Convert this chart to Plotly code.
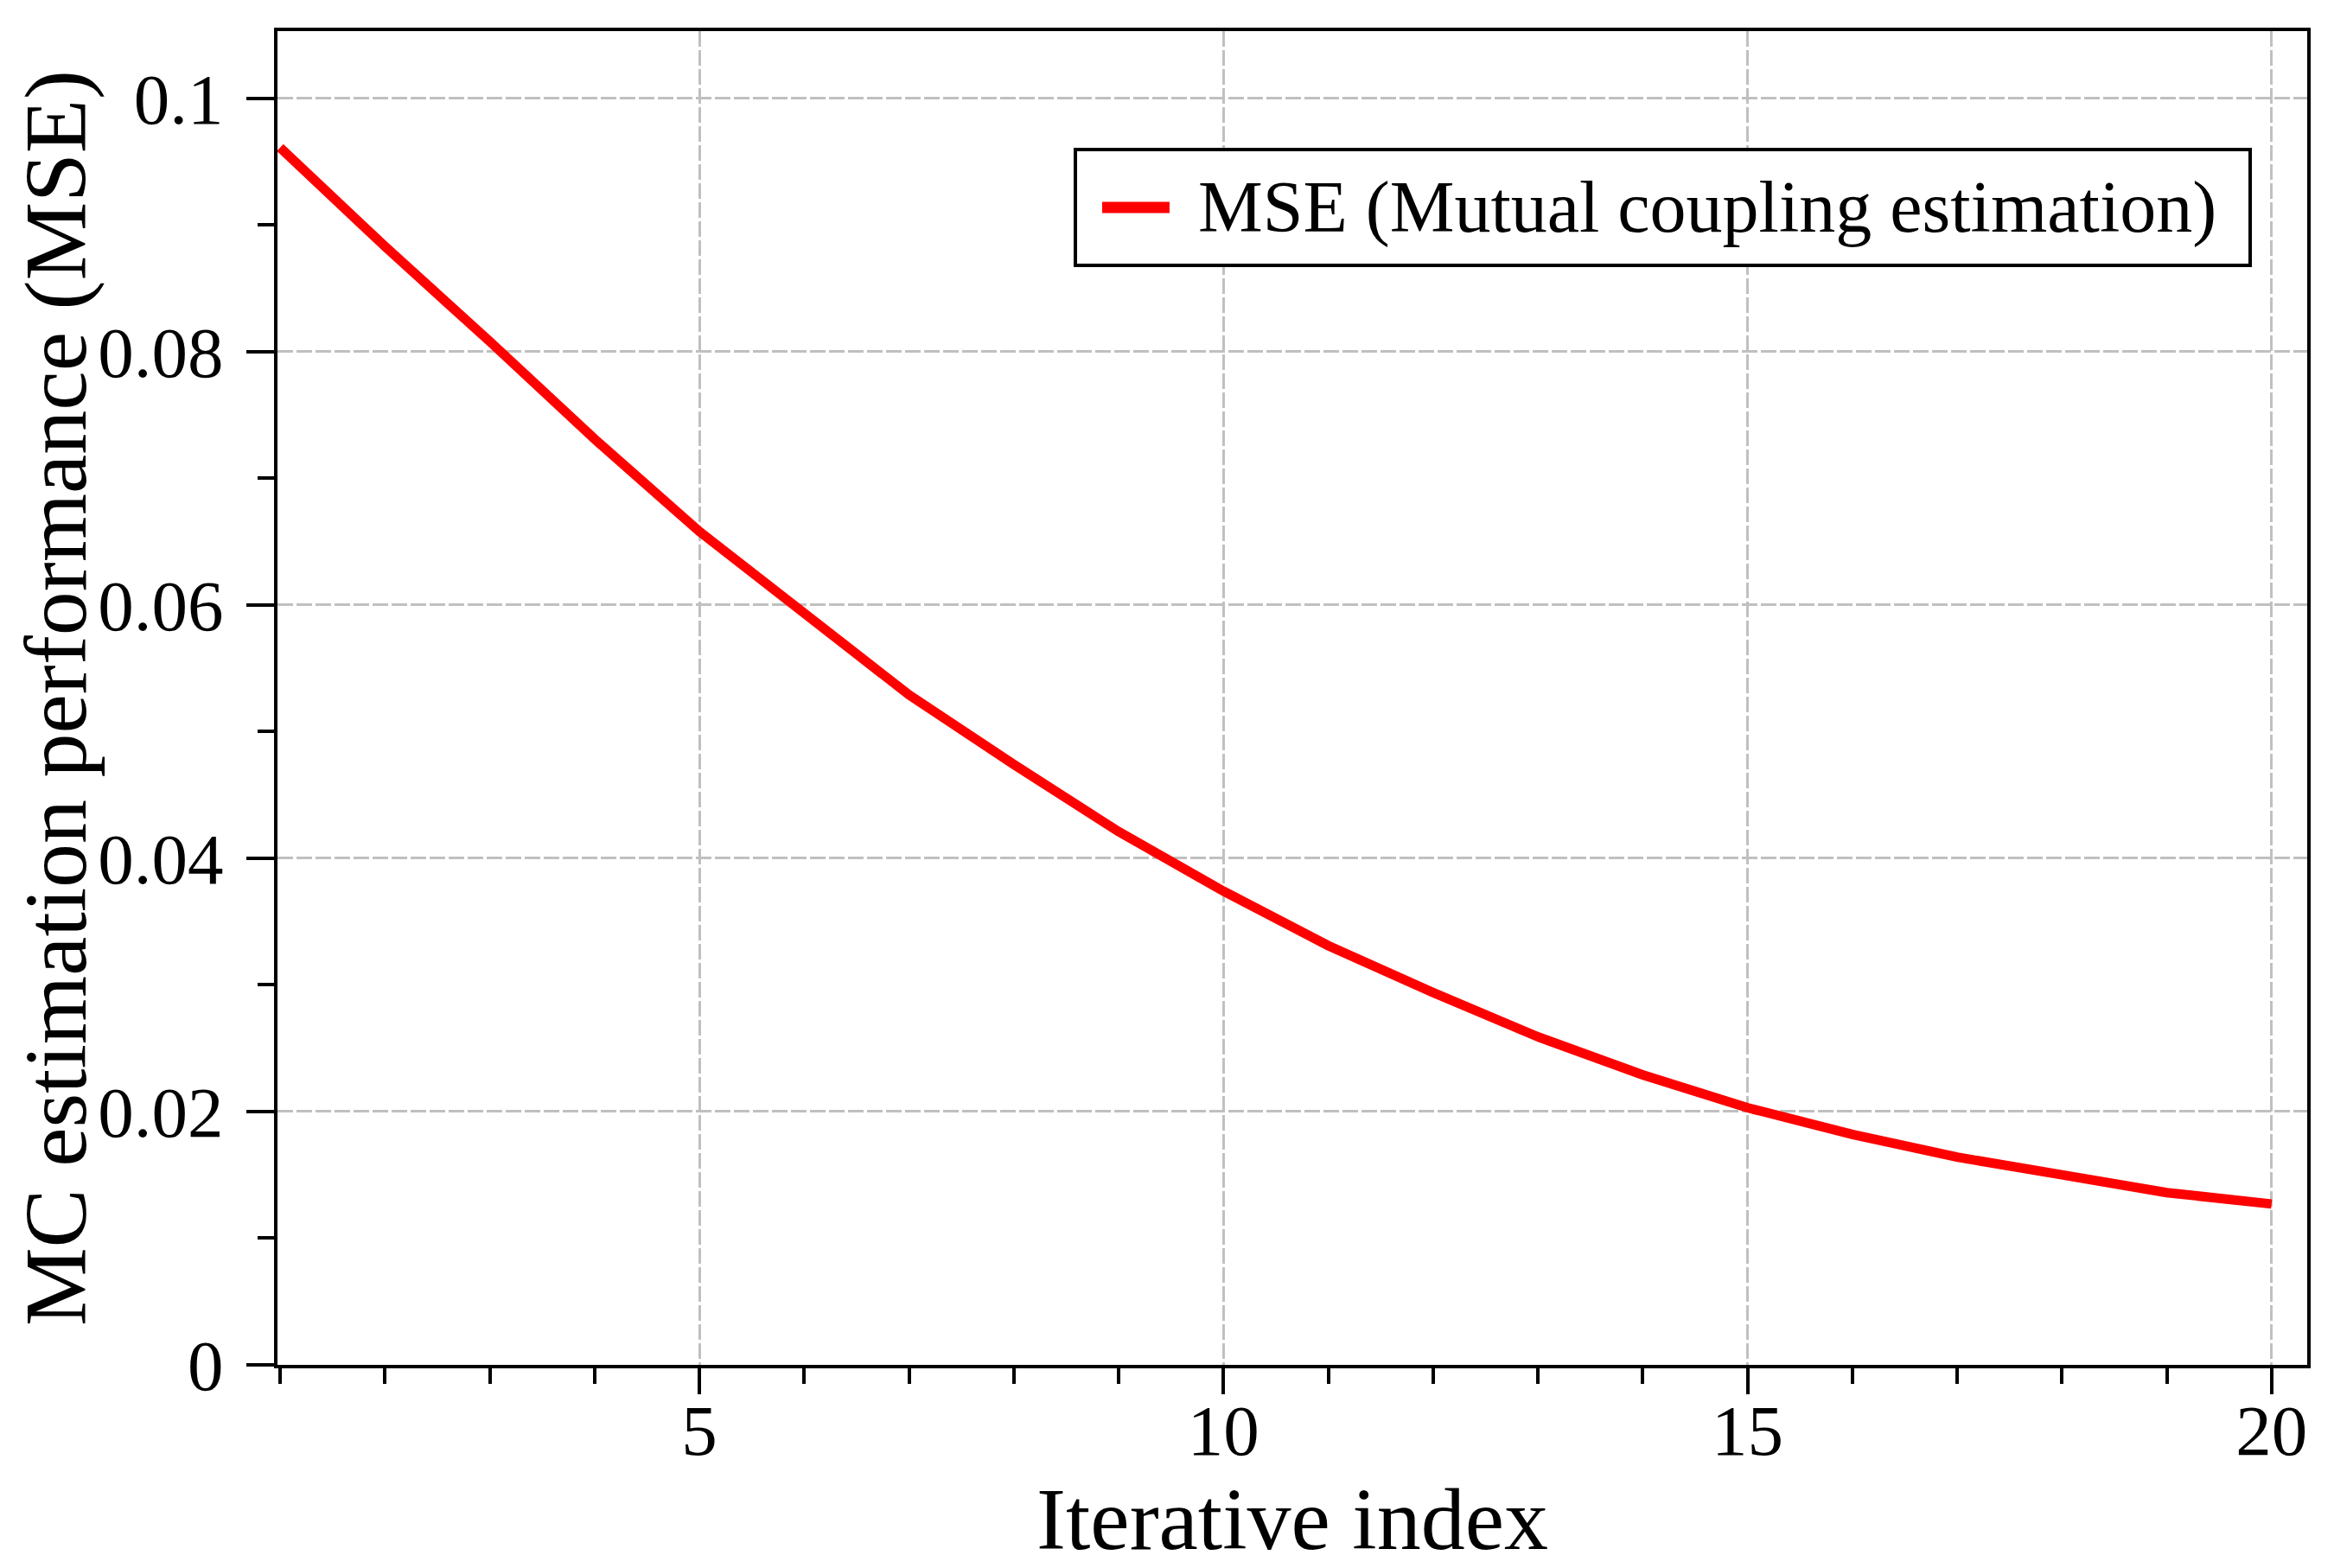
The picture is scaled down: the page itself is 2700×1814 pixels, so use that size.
import plotly.graph_objects as go

iterations = list(range(1, 21))
mse = [0.0961, 0.0883, 0.0808, 0.0731, 0.0658, 0.0593, 0.0529, 0.0474, 0.0421, 0.0374,
       0.0331, 0.0294, 0.0259, 0.0229, 0.0203, 0.0182, 0.0164, 0.0150, 0.0136, 0.0127]
series_name = "MSE (Mutual coupling estimation)"

x_ticks = [5, 10, 15, 20]
y_ticks = [0, 0.02, 0.04, 0.06, 0.08, 0.1]
y_tick_text = ["0", "0.02", "0.04", "0.06", "0.08", "0.1"]

FONT = "Liberation Serif"
RED = "#ff0000"

fig = go.Figure()
fig.add_trace(go.Scatter(
    x=iterations, y=mse, mode="lines",
    name=series_name, showlegend=False,
    line=dict(color=RED, width=11),
))

axis_common = dict(
    showline=True, linecolor="black", linewidth=4, mirror=True,
    showgrid=True, gridcolor="#c0c0c0", gridwidth=3, griddash="18px,4px",
    ticks="outside", tickcolor="black", tickwidth=4,
    tickfont=dict(family=FONT, size=83, color="black"),
    zeroline=False,
)

fig.update_xaxes(
    **axis_common,
    range=[0.975, 20.34], tickvals=x_ticks, ticklen=30, ticklabelstandoff=-30,
    minor=dict(ticks="outside", ticklen=18, tickwidth=4, tickcolor="black", dtick=1, tick0=0, showgrid=False),
    title=dict(text="Iterative index", font=dict(family=FONT, size=102, color="black"), standoff=0),
)
fig.update_yaxes(
    **axis_common,
    range=[0, 0.1053], tickvals=y_ticks, ticktext=y_tick_text, ticklen=32, ticklabelstandoff=10,
    minor=dict(ticks="outside", ticklen=19, tickwidth=4, tickcolor="black", dtick=0.01, tick0=0, showgrid=False),
    title=dict(text="MC estimation performance (MSE)", font=dict(family=FONT, size=102, color="black"), standoff=12),
)

# legend drawn as a framed box with a line sample and label
fig.add_shape(type="rect", xref="paper", yref="paper", x0=0.3931, x1=0.9719, y0=0.8243, y1=0.9112,
              line=dict(color="black", width=4), fillcolor="white", layer="above")
fig.add_shape(type="line", xref="paper", yref="paper", x0=0.4063, x1=0.4395, y0=0.8678, y1=0.8678,
              line=dict(color=RED, width=13), layer="above")
fig.add_annotation(text=series_name, xref="paper", yref="paper", x=0.4527, y=0.8678,
                   xanchor="left", yanchor="middle", showarrow=False,
                   font=dict(family=FONT, size=84, color="black"))

fig.update_layout(
    width=2700, height=1814,
    margin=dict(l=313, r=39, t=28, b=243),
    paper_bgcolor="white", plot_bgcolor="white",
)

fig.write_html("out.html")
